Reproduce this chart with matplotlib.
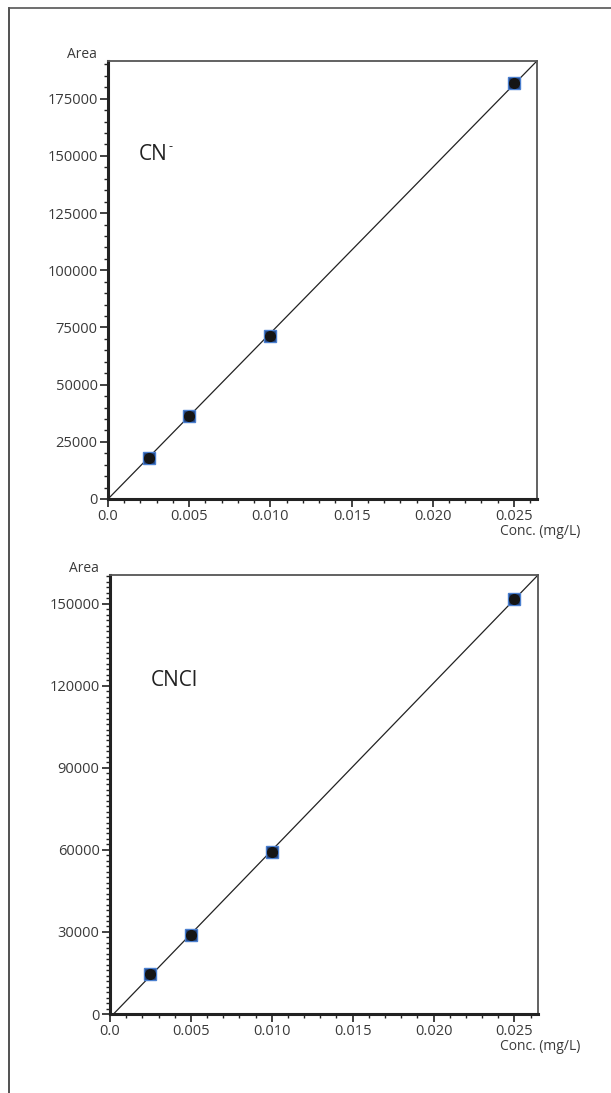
import matplotlib
matplotlib.use("Agg")
import matplotlib.pyplot as plt
from matplotlib.lines import Line2D
from matplotlib.ticker import MultipleLocator, FormatStrFormatter
import numpy as np

plt.rcParams['font.family'] = ['Open Sans', 'DejaVu Sans']

conc = [0.0025, 0.005, 0.010, 0.025]
area_cn = [18000, 36200, 71200, 181800]
area_cncl = [14600, 29000, 59200, 151800]

labels = ["CN", "CNCl"]
sup_labels = ["-", ""]
y_major = [25000, 30000]
y_minor = [5000, 2000]
y_top = [191500, 160500]
x_right = [0.02642, 0.02646]
x_ticks = [0, 0.005, 0.010, 0.015, 0.020, 0.025]
x_ticklabels = ['0.0', '0.005', '0.010', '0.015', '0.020', '0.025']

fig = plt.figure(figsize=(6.11, 10.93), dpi=100)

# page frame lines (left and top)
fig.add_artist(Line2D([9/611, 9/611], [0, 1 - 8/1093], transform=fig.transFigure,
                      color='#333333', lw=1.2))
fig.add_artist(Line2D([9/611, 1], [1 - 8/1093, 1 - 8/1093], transform=fig.transFigure,
                      color='#555555', lw=1.2))

positions = [[108/611, 1 - 499/1093, 429/611, 438/1093],
             [110/611, 1 - 1014/1093, 428/611, 439/1093]]
data = [area_cn, area_cncl]
text_pos = [(139, 155), (151, 680)]

TC = '#3a3a3a'

for i in range(2):
    ax = fig.add_axes(positions[i])
    x = np.array(conc)
    y = np.array(data[i])
    slope, icpt = np.polyfit(x, y, 1)
    if i == 0:
        slope = np.sum(x * y) / np.sum(x * x)
        icpt = 0.0
    x0 = max(0.0, -icpt / slope)
    xl = np.array([x0, x_right[i]])
    ax.plot(xl, slope * xl + icpt, color='#222222', lw=0.9, zorder=2, clip_on=True)
    ax.plot(x, y, linestyle='none', marker='s', markersize=9,
            markerfacecolor='#1f3f7a', markeredgecolor='#4a7fcf', markeredgewidth=1.0, zorder=3,
            clip_on=False)
    ax.plot(x, y, linestyle='none', marker='o', markersize=7,
            markerfacecolor='#151515', markeredgecolor='#151515', zorder=4, clip_on=False)

    ax.set_xlim(0, x_right[i])
    ax.set_ylim(0, y_top[i])
    ax.set_xticks(x_ticks)
    ax.set_xticklabels(x_ticklabels)
    ax.xaxis.set_minor_locator(MultipleLocator(0.001))
    ax.yaxis.set_major_locator(MultipleLocator(y_major[i]))
    ax.yaxis.set_minor_locator(MultipleLocator(y_minor[i]))
    ax.yaxis.set_major_formatter(FormatStrFormatter('%d'))

    ax.tick_params(axis='both', which='major', direction='out', length=6, width=1.2,
                   color='#222222', labelsize=10.5, labelcolor=TC, pad=1.5)
    ax.tick_params(axis='both', which='minor', direction='out', length=3, width=1.0,
                   color='#222222')

    for s in ['left', 'bottom']:
        ax.spines[s].set_linewidth(2.2)
        ax.spines[s].set_color('#222222')
    for s in ['top', 'right']:
        ax.spines[s].set_linewidth(1.3)
        ax.spines[s].set_color('#555555')

    ax.text(-0.025, 0.998, "Area", transform=ax.transAxes, ha='right', va='bottom',
            fontsize=10, color=TC)
    ax.text(1.1, -0.056, "Conc. (mg/L)", transform=ax.transAxes, ha='right', va='top',
            fontsize=10, color=TC)
    tx, ty = text_pos[i]
    t = fig.text(tx / 611, 1 - ty / 1093, labels[i], ha='left', va='center',
                 fontsize=15, color='#222222')
    if sup_labels[i]:
        fig.canvas.draw()
        bb = t.get_window_extent()
        fig.text((bb.x1 + 1) / 611, 1 - (ty - 8) / 1093, sup_labels[i], ha='left',
                 va='center', fontsize=9, color='#222222')

fig.savefig("out.png", dpi=100)
